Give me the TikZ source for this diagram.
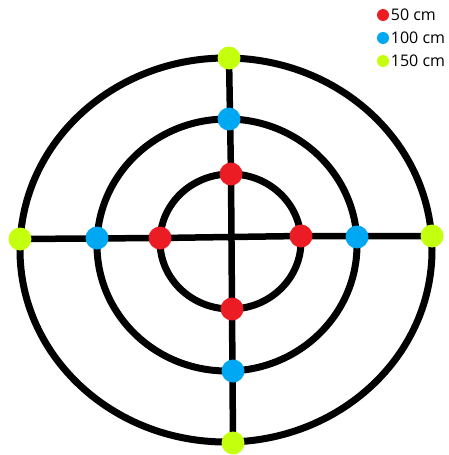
\documentclass[tikz,border=0pt]{standalone}
\usepackage{fontspec}
\setmainfont{Open Sans}
\usetikzlibrary{positioning, backgrounds}
\definecolor{r50}{HTML}{EC1C24}
\definecolor{b100}{HTML}{00A8F3}
\definecolor{g150}{HTML}{C4FF0E}

\begin{document}
\begin{tikzpicture}[
    x=1pt, y=-1pt,
    ring/.style={draw=black, line width=7pt},
    axis/.style={draw=black, line width=6.5pt},
    dot/.style={circle, minimum size=23pt, inner sep=0pt},
    keydot/.style={circle, minimum size=12pt, inner sep=0pt},
    keytext/.style={font=\fontsize{16}{18}\selectfont, inner sep=0pt},
]
\useasboundingbox (0,0) rectangle (449,455);

% 150 cm
\node[dot, fill=g150] (otop) at (229,58) {};
\node[dot, fill=g150] (obot) at (233,443) {};
\node[dot, fill=g150] (olft) at (20,239) {};
\node[dot, fill=g150] (orgt) at (432,236) {};
% 100 cm
\node[dot, fill=b100] (mtop) at (229,119) {};
\node[dot, fill=b100] (mbot) at (233,371) {};
\node[dot, fill=b100] (mlft) at (97,238) {};
\node[dot, fill=b100] (mrgt) at (357,237) {};
% 50 cm
\node[dot, fill=r50] (itop) at (231,174) {};
\node[dot, fill=r50] (ibot) at (232,309) {};
\node[dot, fill=r50] (ilft) at (160,238) {};
\node[dot, fill=r50] (irgt) at (301,236) {};

% rings and cross behind the dots
\begin{scope}[on background layer]
  \fill[white] (0,0) rectangle (449,455);
  \draw[ring] (226,250) ellipse [x radius=206pt, y radius=192pt];
  \draw[ring] (227,245) ellipse [x radius=130pt, y radius=126pt];
  \draw[ring] (230.5,241.5) ellipse [x radius=70.5pt, y radius=67.5pt];
  \draw[axis] (otop.center) -- (itop.center) -- (ibot.center) -- (obot.center);
  \draw[axis] (olft.center) -- (ilft.center) -- (irgt.center) -- (orgt.center);
\end{scope}

% legend
\node[keydot, fill=r50] (key50) at (383,15) {};
\node[keydot, fill=b100] (key100) at (383,38) {};
\node[keydot, fill=g150] (key150) at (383,61) {};
\node[keytext, right=1.5pt of key50] (txt50) {50 cm};
\node[keytext, right=1.5pt of key100] (txt100) {100 cm};
\node[keytext, right=1.5pt of key150] (txt150) {150 cm};

\end{tikzpicture}
\end{document}
